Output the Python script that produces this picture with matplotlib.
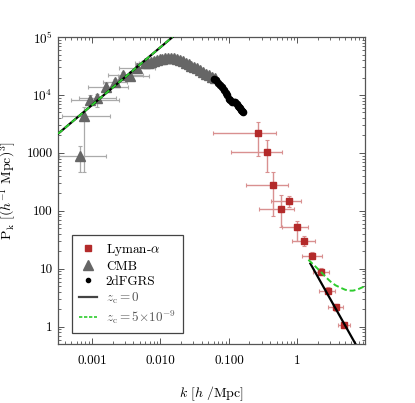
import numpy as np
import matplotlib
matplotlib.use("Agg")
import matplotlib.pyplot as plt
from matplotlib.ticker import FixedLocator, FixedFormatter, LogLocator, NullFormatter

plt.rcParams['mathtext.fontset'] = 'cm'
plt.rcParams['font.family'] = 'serif'
plt.rcParams['font.serif'] = ['cmr10', 'DejaVu Serif']
plt.rcParams['axes.unicode_minus'] = False

# CMB band powers (low k, with big error bars)
cmb_k = [6.66e-4, 7.63e-4, 9.35e-4, 1.19e-3, 1.61e-3, 2.18e-3, 2.86e-3, 3.62e-3, 4.59e-3, 6.02e-3]
cmb_p = [887, 4340, 8200, 8880, 13700, 16800, 22100, 21300, 29200, 35600]
cmb_klo = [3.27e-4, 3.62e-4, 4.91e-4, 6.44e-4, 8.73e-4, 1.45e-3, 1.72e-3, 2.41e-3, 2.49e-3, 4.3e-3]
cmb_khi = [1.61e-3, 1.84e-3, 2.49e-3, 2.25e-3, 3.39e-3, 3.27e-3, 5.62e-3, 6.89e-3, 8.44e-3, 8.0e-3]
cmb_plo = [470, 470, 6730, 6210, 11800, 14500, 19500, 19000, 26500, 33500]
cmb_phi = [1300, 6200, 10000, 10400, 15800, 19000, 24500, 23800, 32000, 38000]

# CMB, dense part around the turnover
hump_k = [0.0065, 0.0072, 0.0080, 0.0088, 0.0097, 0.0107, 0.0118, 0.0130, 0.0143,
          0.0158, 0.0174, 0.0192, 0.0212, 0.0234, 0.0258, 0.0284, 0.0313, 0.0345,
          0.0381, 0.0420, 0.0463, 0.0511, 0.0563, 0.0621]
hump_p = [36300, 37800, 39300, 40500, 41800, 42600, 43500, 43800, 43500,
          43000, 41800, 40100, 38600, 36300, 34300, 32300, 30400, 28700,
          27000, 24900, 23500, 22100, 20800, 19600]

# 2dFGRS
gal_k = [0.0601, 0.0644, 0.0689, 0.0738, 0.0789, 0.0844, 0.0903, 0.0935, 0.100, 0.1035,
         0.1107, 0.1185, 0.1226, 0.131, 0.1357, 0.140, 0.145, 0.150, 0.155, 0.1606]
gal_p = [18900, 18200, 16100, 14900, 13700, 12200, 10800, 10000, 8530, 8040,
         7570, 7570, 7430, 7000, 6460, 6210, 5850, 5510, 5300, 5090]

# Lyman-alpha
lya_k = [0.27, 0.36, 0.44, 0.58, 0.76, 1.0, 1.27, 1.66, 2.18, 2.85, 3.7, 4.8]
lya_p = [2200, 1050, 280, 107, 148, 53, 30, 16.6, 8.9, 4.2, 2.2, 1.07]
lya_klo = [0.058, 0.107, 0.18, 0.28, 0.41, 0.6, 0.84, 1.18, 1.72, 2.1, 2.85, 3.9]
lya_khi = [0.49, 0.6, 0.74, 0.9, 1.15, 1.45, 1.8, 2.33, 2.86, 3.6, 4.6, 5.8]
lya_plo = [890, 470, 81, 52, 117, 30, 25, 14.5, 7.8, 3.6, 1.9, 0.95]
lya_phi = [3400, 1660, 470, 190, 182, 67, 37, 19.5, 10.2, 4.9, 2.5, 1.2]

# model curves
lin_k = [3.2e-4, 0.0150]
lin_p = [2150, 1.0e5]
z0_k = [1.55, 7.1]
z0_p = [12.3, 0.5]
z5_k = [1.45, 1.8, 2.2, 2.6, 3.06, 3.6, 4.3, 5.0, 5.6, 6.5, 7.6, 9.3]
z5_p = [14.3, 11.2, 8.9, 7.2, 6.0, 5.2, 4.7, 4.35, 4.2, 4.2, 4.4, 4.9]

red = '#b32a2a'
red_err = '#d99090'
grey = '#666666'
grey_err = '#aaaaaa'
green = '#2ecc2e'

fig = plt.figure(figsize=(4.15, 4.03), dpi=100)
ax = fig.add_axes([0.14, 0.146, 0.74, 0.762])
ax.set_xscale('log')
ax.set_yscale('log')

# model lines
ax.plot(lin_k, lin_p, color='black', lw=1.6, zorder=4)
ax.plot(lin_k, lin_p, color=green, lw=1.4, ls=(0, (3, 1.5)), zorder=5)
ax.plot(z0_k, z0_p, color='black', lw=1.6, zorder=4)
ax.plot(z5_k, z5_p, color=green, lw=1.4, ls=(0, (3, 1.5)), zorder=5)

# CMB
cmb_xerr = [np.array(cmb_k) - np.array(cmb_klo), np.array(cmb_khi) - np.array(cmb_k)]
cmb_yerr = [np.array(cmb_p) - np.array(cmb_plo), np.array(cmb_phi) - np.array(cmb_p)]
ax.errorbar(cmb_k, cmb_p, xerr=cmb_xerr, yerr=cmb_yerr, fmt='none', ecolor=grey_err,
            elinewidth=0.9, capsize=1.5, capthick=0.8, zorder=2)
hump_k = np.array(hump_k)
ax.errorbar(hump_k[:8], hump_p[:8], xerr=[hump_k[:8] * 0.25, hump_k[:8] * 0.3], fmt='none',
            ecolor=grey_err, elinewidth=0.8, capsize=1.2, zorder=2)
ax.plot(cmb_k, cmb_p, ls='none', marker='^', ms=7, color=grey, zorder=3)
ax.plot(hump_k, hump_p, ls='none', marker='^', ms=7.5, color=grey, zorder=3)

# 2dFGRS
ax.plot(gal_k, gal_p, ls='none', marker='o', ms=4.5, color='black', zorder=3)

# Lyman-alpha
lya_xerr = [np.array(lya_k) - np.array(lya_klo), np.array(lya_khi) - np.array(lya_k)]
lya_yerr = [np.array(lya_p) - np.array(lya_plo), np.array(lya_phi) - np.array(lya_p)]
ax.errorbar(lya_k, lya_p, xerr=lya_xerr, yerr=lya_yerr, fmt='none', ecolor=red_err,
            elinewidth=1.0, capsize=1.5, capthick=0.8, zorder=2)
ax.plot(lya_k, lya_p, ls='none', marker='s', ms=4.2, color=red, zorder=3)

ax.set_xlim(3.2e-4, 9.8)
ax.set_ylim(0.5, 1.0e5)

ax.xaxis.set_major_locator(FixedLocator([1e-3, 1e-2, 1e-1, 1]))
ax.xaxis.set_major_formatter(FixedFormatter(['0.001', '0.010', '0.100', '1']))
ax.yaxis.set_major_locator(FixedLocator([1, 10, 100, 1000, 1e4, 1e5]))
ax.yaxis.set_major_formatter(FixedFormatter(['1', '10', '100', '1000', r'$10^4$', r'$10^5$']))
ax.xaxis.set_minor_locator(LogLocator(base=10, subs=np.arange(2, 10), numticks=20))
ax.yaxis.set_minor_locator(LogLocator(base=10, subs=np.arange(2, 10), numticks=20))
ax.xaxis.set_minor_formatter(NullFormatter())
ax.yaxis.set_minor_formatter(NullFormatter())
ax.tick_params(which='both', direction='in', top=True, right=True, color='#555555',
               labelsize=9.5)
ax.tick_params(which='major', length=4.5, width=0.7)
ax.tick_params(which='minor', length=2.2, width=0.6)
ax.tick_params(axis='x', pad=8)
ax.tick_params(axis='y', pad=4)
for s in ax.spines.values():
    s.set_color('#555555')
    s.set_linewidth(0.9)

ax.set_xlabel(r'$k\ [h\ /\mathrm{Mpc}]$', fontsize=10, labelpad=12)
ax.set_ylabel(r'$\mathrm{P_k}\ [(h^{-1}\ \mathrm{Mpc})^3]$', fontsize=10, labelpad=6)

h1, = ax.plot([], [], ls='none', marker='s', ms=4.2, color=red)
h2, = ax.plot([], [], ls='none', marker='^', ms=6.5, color=grey)
h3, = ax.plot([], [], ls='none', marker='o', ms=3, color='black')
h4, = ax.plot([], [], color='#444444', lw=1.6)
h5, = ax.plot([], [], color=green, lw=1.2, ls=(0, (2, 1)))
leg = ax.legend([h1, h2, h3, h4, h5],
                [r'Lyman-$\alpha$', 'CMB', '2dFGRS', r'$z_\mathrm{c} = 0$',
                 r'$z_\mathrm{c} = 5{\times}10^{-9}$'],
                loc='lower left', bbox_to_anchor=(0.046, 0.036), fontsize=9.5,
                frameon=True, fancybox=False, framealpha=1, edgecolor='#444444',
                handlelength=1.3, handletextpad=0.7, labelspacing=0.2,
                borderpad=0.55, borderaxespad=0)
leg.get_frame().set_linewidth(0.9)
for t in leg.get_texts()[3:]:
    t.set_color('#555555')

fig.savefig('out.png', dpi=100)
